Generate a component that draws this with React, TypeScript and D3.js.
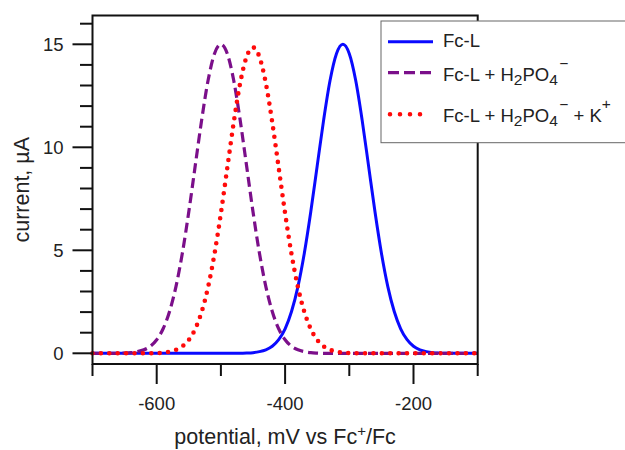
import React from "react";
import * as d3 from "d3";

const potential = [
  -700, -690, -680, -670, -660, -650, -640, -630, -620, -610,
  -600, -590, -580, -570, -560, -550, -540, -530, -520, -510,
  -500, -490, -480, -470, -460, -450, -440, -430, -420, -410,
  -400, -390, -380, -370, -360, -350, -340, -330, -320, -310,
  -300, -290, -280, -270, -260, -250, -240, -230, -220, -210,
  -200, -190, -180, -170, -160, -150, -140, -130, -120, -110, -100,
];

// Fc-L (peak near -310 mV)
const fcL = [
  0, 0, 0, 0, 0, 0, 0, 0, 0, 0,
  0, 0, 0, 0, 0, 0, 0, 0, 0, 0,
  0, 0, 0, 0, 0.01, 0.03, 0.08, 0.17, 0.34, 0.66,
  1.19, 2.03, 3.24, 4.87, 6.87, 9.1, 11.32, 13.24, 14.54, 15.0,
  14.54, 13.24, 11.32, 9.1, 6.87, 4.87, 3.24, 2.03, 1.19, 0.66,
  0.34, 0.17, 0.08, 0.03, 0.01, 0, 0, 0, 0, 0, 0,
];

// Fc-L + H2PO4- (peak near -500 mV)
const fcLH2PO4 = [
  0, 0, 0, 0, 0, 0.01, 0.03, 0.08, 0.17, 0.34,
  0.66, 1.19, 2.03, 3.24, 4.87, 6.87, 9.1, 11.32, 13.24, 14.54,
  15.0, 14.54, 13.24, 11.32, 9.1, 6.87, 4.87, 3.24, 2.03, 1.19,
  0.66, 0.34, 0.17, 0.08, 0.03, 0.01, 0, 0, 0, 0,
  0, 0, 0, 0, 0, 0, 0, 0, 0, 0,
  0, 0, 0, 0, 0, 0, 0, 0, 0, 0, 0,
];

// Fc-L + H2PO4- + K+ (peak near -450 mV)
const fcLH2PO4K = [
  0, 0, 0, 0, 0, 0, 0, 0, 0, 0,
  0.01, 0.03, 0.08, 0.17, 0.34, 0.65, 1.18, 2.01, 3.21, 4.82,
  6.8, 9.01, 11.21, 13.11, 14.39, 14.85, 14.39, 13.11, 11.21, 9.01,
  6.8, 4.82, 3.21, 2.01, 1.18, 0.65, 0.34, 0.17, 0.08, 0.03,
  0.01, 0, 0, 0, 0, 0, 0, 0, 0, 0,
  0, 0, 0, 0, 0, 0, 0, 0, 0, 0, 0,
];

const xMajorTicks = [-600, -400, -200];
const xMinorTicks = [-700, -500, -300, -100];
const yMajorTicks = [0, 5, 10, 15];
const yMinorTicks = [1, 2, 3, 4, 6, 7, 8, 9, 11, 12, 13, 14, 16];

const FONT = "'Liberation Sans', Arial, Helvetica, sans-serif";

function Formula({ y, withK }: { y: number; withK: boolean }) {
  const small = 15.5;
  return (
    <text x={443} y={y} fontSize={18.5} fill="#222">
      Fc-L + H
      <tspan dy={4} fontSize={small}>2</tspan>
      <tspan dy={-4}>PO</tspan>
      <tspan dy={4} fontSize={small}>4</tspan>
      <tspan dy={-16} dx={1.5} fontSize={small}>−</tspan>
      {withK && (
        <>
          <tspan dy={12}> + K</tspan>
          <tspan dy={-13} fontSize={small}>+</tspan>
        </>
      )}
    </text>
  );
}

export default function App() {
  const left = 92.5, right = 477.7, top = 15.5, bottom = 364;
  const x = d3.scaleLinear().domain([-700, -100]).range([left, right]);
  const y = d3.scaleLinear().domain([0, 15]).range([353.3, 44.3]);

  const line = (vals: number[]) =>
    d3
      .line<number>()
      .x((_, i) => x(potential[i]))
      .y((v) => y(v))
      .curve(d3.curveMonotoneX)(vals) || "";

  const blue = "#0a0aff";
  const purple = "#7b0f8a";
  const red = "#ff0a0a";

  return (
    <div style={{ position: "absolute", left: 0, top: 0 }}>
      <svg width={625} height={450} style={{ display: "block", background: "#fff" }} fontFamily={FONT}>
        <rect x={0} y={0} width={625} height={450} fill="#fff" />
        {/* curves */}
        <path d={line(fcL)} fill="none" stroke={blue} strokeWidth={3} />
        <path d={line(fcLH2PO4)} fill="none" stroke={purple} strokeWidth={3.2} strokeDasharray="10 5" />
        <path
          d={line(fcLH2PO4K)}
          fill="none"
          stroke={red}
          strokeWidth={4.6}
          strokeLinecap="round"
          strokeDasharray="0 8.4"
        />
        {/* frame */}
        <rect x={left} y={top} width={right - left} height={bottom - top} fill="none" stroke="#111" strokeWidth={2} />
        {/* y ticks */}
        {yMajorTicks.map((t) => (
          <g key={"ym" + t}>
            <line x1={left - 20} x2={left} y1={y(t)} y2={y(t)} stroke="#111" strokeWidth={2} />
            <text x={63.5} y={y(t)} dy="0.36em" textAnchor="end" fontSize={18.5} fill="#222">
              {t}
            </text>
          </g>
        ))}
        {yMinorTicks.map((t) => (
          <line key={"yn" + t} x1={left - 12.5} x2={left} y1={y(t)} y2={y(t)} stroke="#111" strokeWidth={2} />
        ))}
        {/* x ticks */}
        {xMajorTicks.map((t) => (
          <g key={"xm" + t}>
            <line x1={x(t)} x2={x(t)} y1={bottom} y2={bottom + 20} stroke="#111" strokeWidth={2} />
            <text x={x(t)} y={410} textAnchor="middle" fontSize={18.5} fill="#222">
              {t}
            </text>
          </g>
        ))}
        {xMinorTicks.map((t) => (
          <line key={"xn" + t} x1={x(t)} x2={x(t)} y1={bottom} y2={bottom + 12} stroke="#111" strokeWidth={2} />
        ))}
        {/* axis titles */}
        <text x={(left + right) / 2} y={444} textAnchor="middle" fontSize={21.5} fill="#222">
          potential, mV vs Fc<tspan baseline-shift="super" fontSize="70%">+</tspan>/Fc
        </text>
        <text
          transform={`translate(28.5, ${(top + bottom) / 2}) rotate(-90)`}
          textAnchor="middle"
          fontSize={21.5}
          fill="#222"
        >
          current, µA
        </text>
        {/* legend */}
        <rect x={381} y={21} width={260} height={121.7} fill="#fff" stroke="#666" strokeWidth={1} />
        <line x1={388} x2={433} y1={41.7} y2={41.7} stroke={blue} strokeWidth={3} />
        <line x1={388} x2={433} y1={72.7} y2={72.7} stroke={purple} strokeWidth={3.2} strokeDasharray="11 5" />
        <line
          x1={390}
          x2={430}
          y1={114.3}
          y2={114.3}
          stroke={red}
          strokeWidth={4.6}
          strokeLinecap="round"
          strokeDasharray="0 10"
        />
        <text x={443} y={47.3} fontSize={18.5} fill="#222">
          Fc-L
        </text>
        <Formula y={81.3} withK={false} />
        <Formula y={121.5} withK={true} />
      </svg>
    </div>
  );
}
